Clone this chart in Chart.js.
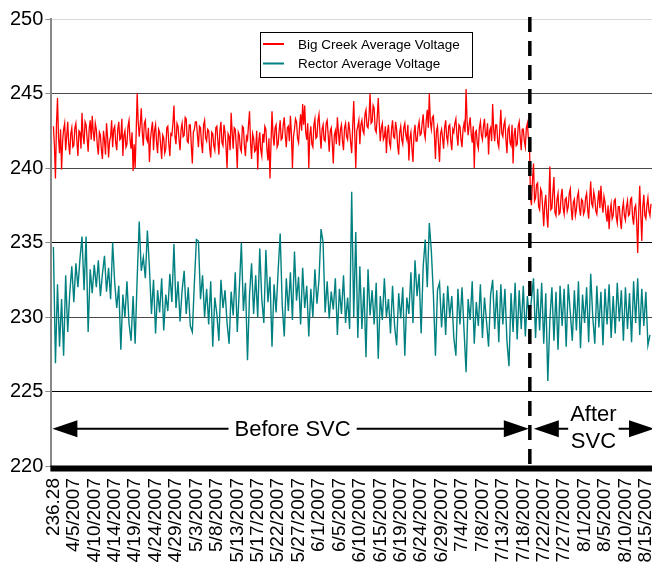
<!DOCTYPE html>
<html><head><meta charset="utf-8">
<script src="https://cdn.jsdelivr.net/npm/chart.js@4"></script>
<style>html,body{margin:0;padding:0;background:#fff;overflow:hidden}canvas{display:block}</style>
</head><body>
<canvas id="c" width="652" height="567"></canvas>
<script>
const tickLabels = ['236.28','4/5/2007','4/10/2007','4/14/2007','4/19/2007','4/24/2007','4/29/2007','5/3/2007','5/8/2007','5/13/2007','5/17/2007','5/22/2007','5/27/2007','6/1/2007','6/5/2007','6/10/2007','6/15/2007','6/19/2007','6/24/2007','6/29/2007','7/4/2007','7/8/2007','7/13/2007','7/18/2007','7/22/2007','7/27/2007','8/1/2007','8/5/2007','8/10/2007','8/15/2007'];
const labelStep = 10;            // readings of Rector between two date labels
const seriesNames = ['Big Creek Average Voltage', 'Rector Average Voltage'];
// Big Creek: two readings per Rector reading
const bigCreek = [
242.8,241.5,239.3,242.9,244.7,242.0,241.0,242.6,239.9,241.8,242.6,243.0,241.2,242.1,243.1,241.6,240.9,242.3,242.7,241.4,
241.5,242.7,243.0,241.8,240.8,242.5,242.4,241.3,243.7,242.2,241.6,243.1,242.9,242.0,241.1,242.6,243.2,241.9,243.5,242.4,
241.8,243.0,242.6,241.5,240.9,242.4,242.2,241.2,240.6,242.5,241.9,240.9,243.0,242.1,240.7,241.8,242.1,243.2,241.4,242.6,
242.8,241.7,241.2,242.6,243.1,241.9,242.0,243.3,240.8,242.2,242.5,241.4,241.6,242.8,243.2,241.9,241.3,242.4,239.8,241.6,
240.0,242.3,245.0,243.1,242.1,242.9,244.0,242.4,241.5,243.0,243.2,242.0,241.8,242.7,240.4,241.9,242.6,243.1,241.2,242.5,
242.9,241.7,241.0,242.6,242.4,241.5,240.6,242.2,242.0,241.0,241.3,242.7,242.8,241.6,240.8,242.3,242.2,243.0,244.2,242.1,
241.6,243.0,242.8,241.9,241.2,242.6,243.0,242.1,242.2,243.4,243.3,241.8,241.7,242.9,242.9,241.5,240.3,242.4,242.6,243.1,
243.1,242.2,241.4,242.8,242.7,241.6,241.0,242.9,243.2,242.0,241.8,242.6,242.5,241.3,240.7,242.4,242.3,241.5,241.2,242.7,
242.8,241.8,240.9,242.5,243.1,241.7,241.5,242.9,242.4,241.4,240.0,242.3,242.1,241.2,243.7,242.4,241.3,242.7,242.6,241.5,
240.0,242.4,242.2,241.3,241.1,242.8,242.7,241.5,240.8,242.1,241.9,242.9,243.8,241.7,240.6,242.3,242.0,241.1,241.2,242.5,
239.9,241.8,242.4,241.2,240.8,242.3,241.7,242.8,242.6,241.3,240.5,242.0,239.3,241.6,243.8,242.2,241.5,242.7,242.9,241.4,
241.6,242.5,243.2,241.9,242.0,242.9,243.4,242.2,241.4,242.7,242.8,241.8,243.5,242.3,240.0,242.1,242.6,243.3,243.1,242.0,
241.7,242.8,243.6,242.5,244.3,242.9,244.2,242.4,241.9,243.0,240.0,242.2,242.8,241.6,241.4,242.9,243.3,242.0,242.1,243.2,
243.6,242.3,241.3,242.6,242.9,241.9,241.8,243.0,243.2,242.2,241.1,242.5,242.7,241.7,240.3,242.2,242.5,241.6,243.4,242.4,
241.5,242.6,242.9,241.8,241.2,242.7,243.0,242.1,241.9,243.1,242.6,241.7,241.0,242.8,244.5,242.3,240.0,242.5,242.8,243.2,
241.6,242.9,243.2,242.5,242.3,243.6,243.9,242.8,242.7,243.5,245.0,243.0,243.1,244.2,244.0,242.6,242.4,243.4,244.7,243.0,
241.8,242.7,243.0,241.9,242.1,242.8,241.0,242.4,242.9,241.7,241.4,242.6,243.2,242.1,242.0,243.1,242.6,241.5,240.9,242.4,
242.8,241.9,241.6,242.7,243.0,242.2,241.9,242.9,240.5,242.0,242.4,241.3,240.4,242.3,242.9,241.8,241.8,242.7,243.1,242.2,
242.3,243.0,243.6,242.4,242.0,243.2,243.9,242.7,245.0,243.1,242.6,243.4,243.5,242.2,240.6,242.5,242.8,241.6,240.4,242.3,
242.6,242.0,241.3,242.7,243.2,242.1,241.7,242.8,242.9,241.8,241.2,242.6,242.4,243.0,243.3,242.2,241.5,242.9,242.8,241.9,
241.4,242.6,243.0,242.4,245.3,243.1,242.2,242.9,243.4,242.3,241.7,242.8,240.0,242.4,242.5,241.6,241.3,242.7,243.1,242.2,
241.9,242.8,243.3,242.1,242.2,243.0,240.9,242.5,242.7,241.8,244.3,242.6,241.8,242.9,242.9,241.7,241.4,242.6,243.9,242.3,
242.1,242.9,243.2,241.9,241.0,242.6,242.8,241.7,241.5,242.9,240.3,242.2,242.7,241.5,241.6,242.8,243.1,242.0,241.2,242.6,
242.6,241.8,241.4,242.7,243.0,242.0,241.9,238.0,237.5,239.2,240.3,237.8,238.0,238.9,239.0,237.4,237.2,238.6,238.4,237.3,
236.1,237.6,238.2,236.9,236.0,237.8,240.1,237.2,237.3,238.4,239.4,237.0,236.8,237.9,238.3,236.9,237.0,238.1,238.6,237.3,
236.9,237.9,238.0,237.1,237.4,238.3,238.6,237.2,236.5,237.7,237.9,236.8,237.2,238.1,238.4,237.3,236.8,237.9,237.8,236.9,
237.1,238.0,238.3,237.2,236.6,237.9,239.1,237.6,237.4,238.4,238.0,237.1,236.9,237.8,238.5,237.3,238.8,237.6,237.0,238.1,
237.7,236.9,236.4,237.5,235.9,237.1,237.6,236.6,236.8,237.8,237.9,236.7,236.3,237.4,237.4,236.5,235.9,237.2,237.7,236.8,
236.5,237.4,237.8,236.8,236.9,237.9,238.0,236.7,236.2,237.3,237.5,236.4,234.3,237.0,238.8,236.9,235.1,237.4,238.2,236.8,
236.6,237.5,238.0,237.1,236.8,237.6
];
const rector = [
234.7,226.9,232.2,228.0,231.2,227.4,232.8,229.0,231.6,233.4,
231.0,233.6,232.0,233.9,235.4,231.8,235.4,229.0,233.2,231.6,
233.5,232.0,233.8,231.4,232.9,234.1,231.7,233.3,231.2,235.0,
232.3,230.6,232.1,227.8,231.5,230.0,232.4,229.6,228.4,231.4,
228.2,232.6,236.4,233.1,234.0,232.6,235.8,233.3,230.2,232.5,
228.9,231.8,230.3,232.6,229.1,231.5,230.4,232.9,231.0,234.9,
230.6,232.4,229.7,231.8,233.1,230.2,232.0,229.4,229.0,232.3,
235.2,235.1,231.2,232.8,230.0,231.9,229.5,232.4,228.0,231.3,
230.2,228.4,232.5,230.6,231.8,229.6,228.2,231.7,230.1,233.0,
229.0,231.9,235.0,230.4,232.3,227.1,231.5,233.6,230.2,232.8,
230.0,234.6,231.2,229.6,234.5,231.0,232.7,228.0,232.2,230.3,
233.1,235.6,230.8,228.7,232.6,230.4,233.0,229.8,234.4,231.1,
232.7,229.5,233.3,230.6,232.1,228.7,231.9,230.0,233.2,230.9,
232.5,235.9,235.0,230.3,232.4,229.9,231.7,230.5,232.6,228.8,
231.9,230.2,232.8,229.6,231.3,229.2,238.4,230.0,235.7,228.6,
233.4,229.2,232.0,227.3,233.2,230.1,231.8,229.5,232.3,227.2,
231.4,229.8,232.6,230.0,231.2,228.9,232.1,229.4,228.1,231.6,
229.9,232.0,227.4,231.3,230.2,233.0,229.6,233.8,231.4,232.9,
228.9,233.4,235.2,232.0,236.3,234.4,231.5,227.4,231.8,232.3,
229.3,231.6,228.8,232.1,230.0,231.4,228.6,227.4,231.9,229.5,
232.0,229.1,226.3,231.2,229.8,232.4,228.2,231.0,229.4,232.2,
228.6,231.3,229.7,228.0,231.5,232.5,229.2,231.8,228.3,232.2,
229.5,231.9,228.4,226.7,231.6,229.0,232.3,228.5,231.8,229.2,
232.1,228.7,231.4,229.9,231.2,232.6,228.6,231.9,229.1,232.3,
228.2,231.6,225.7,229.8,232.0,228.4,231.7,227.8,232.1,229.4,
231.9,228.0,232.2,230.3,228.4,231.8,229.1,232.4,227.9,231.5,
229.6,232.0,228.3,232.9,230.0,228.2,232.1,229.3,231.7,228.1,
231.9,229.5,232.2,228.6,231.4,228.9,232.3,229.7,231.8,228.4,
232.0,229.2,231.6,228.3,232.4,229.6,232.6,228.8,231.9,229.4,
231.7,228.1,228.8
];
const seriesColors = ['#ff0000', '#008080'];
const readingsPerStep = [2, 1];   // Big Creek has twice as many readings
const svcBoundary = 233.2;        // reading index where the SVC went in
const arrowLevel = 222.5;         // voltage level of the before/after arrows
const yMin = 220, yMax = 250, yStep = 5;

const FONT = "'Liberation Sans', Arial, Helvetica, sans-serif";
Chart.defaults.font.family = FONT;
Chart.defaults.color = '#000';

function toPoints(arr, per) { return arr.map((v, i) => ({x: i / per, y: v})); }

function arrowHead(ctx, tipX, y, dir, len, half) {
  ctx.beginPath();
  ctx.moveTo(tipX, y);
  ctx.lineTo(tipX - dir * len, y - half);
  ctx.lineTo(tipX - dir * len, y + half);
  ctx.closePath();
  ctx.fill();
}

const svcPlugin = {
  id: 'svcNotes',
  afterDatasetsDraw(chart) {
    const {ctx, chartArea, scales} = chart;
    const xs = scales.x.getPixelForValue(svcBoundary);
    const ya = scales.y.getPixelForValue(arrowLevel);
    ctx.save();
    // thick category axis line
    ctx.fillStyle = '#000';
    ctx.fillRect(chartArea.left - 1, chartArea.bottom - 0.5, chartArea.right - chartArea.left + 2, 6);
    // dashed divider
    ctx.strokeStyle = '#000';
    ctx.lineWidth = 3.5;
    ctx.setLineDash([15, 9]);
    ctx.beginPath();
    ctx.moveTo(xs, chartArea.top - 2);
    ctx.lineTo(xs, chartArea.bottom);
    ctx.stroke();
    ctx.setLineDash([]);

    const HL = 25, HH = 8.5;
    ctx.fillStyle = '#000';
    ctx.lineWidth = 2;
    const b1 = chartArea.left + 1, b2 = xs - 1;
    ctx.beginPath(); ctx.moveTo(b1 + HL - 1, ya); ctx.lineTo(b2 - HL + 1, ya); ctx.stroke();
    arrowHead(ctx, b1, ya, -1, HL, HH);
    arrowHead(ctx, b2, ya, 1, HL, HH);
    const a1 = xs + 4, a2 = chartArea.right + 2;
    ctx.beginPath(); ctx.moveTo(a1 + HL - 1, ya); ctx.lineTo(a2 - HL + 1, ya); ctx.stroke();
    arrowHead(ctx, a1, ya, -1, HL, HH);
    arrowHead(ctx, a2, ya, 1, HL, HH);

    ctx.font = '22px ' + FONT;
    ctx.textAlign = 'center';
    ctx.textBaseline = 'middle';
    const bt = 'Before SVC';
    const bx = (b1 + b2) / 2 + 2;
    const bw = ctx.measureText(bt).width;
    ctx.fillStyle = '#fff';
    ctx.fillRect(bx - bw / 2 - 6, ya - 13, bw + 12, 26);
    ctx.fillStyle = '#000';
    ctx.fillText(bt, bx, ya + 1);

    const ax = (a1 + a2) / 2 - 0.5;
    const aw = Math.max(ctx.measureText('After').width, ctx.measureText('SVC').width);
    ctx.fillStyle = '#fff';
    ctx.fillRect(ax - aw / 2 - 2, ya - 28, aw + 4, 56);
    ctx.fillStyle = '#000';
    ctx.fillText('After', ax, ya - 14);
    ctx.fillText('SVC', ax, ya + 13);

    // legend
    const lx = 260, ly = 32, lw = 212, lh = 45;
    ctx.fillStyle = '#fff';
    ctx.fillRect(lx, ly, lw, lh);
    ctx.strokeStyle = '#000';
    ctx.lineWidth = 1;
    ctx.strokeRect(lx + 0.5, ly + 0.5, lw, lh);
    ctx.font = '13.5px ' + FONT;
    ctx.textAlign = 'left';
    chart.data.datasets.forEach((ds, k) => {
      const yy = ly + 12 + k * 19.5;
      ctx.strokeStyle = ds.borderColor;
      ctx.lineWidth = 2;
      ctx.beginPath(); ctx.moveTo(lx + 3, yy); ctx.lineTo(lx + 24, yy); ctx.stroke();
      ctx.fillStyle = '#000';
      ctx.fillText(ds.label, lx + 38, yy + 1);
    });
    ctx.restore();
  }
};

new Chart(document.getElementById('c'), {
  type: 'line',
  data: {
    datasets: [
      {label: seriesNames[0], data: toPoints(bigCreek, readingsPerStep[0]), borderColor: seriesColors[0], borderWidth: 1.3, pointRadius: 0, tension: 0},
      {label: seriesNames[1], data: toPoints(rector, readingsPerStep[1]), borderColor: seriesColors[1], borderWidth: 1.4, pointRadius: 0, tension: 0}
    ]
  },
  options: {
    responsive: false,
    animation: false,
    devicePixelRatio: 1,
    layout: {padding: {left: 8, top: 19, right: 0, bottom: 4}},
    plugins: {legend: {display: false}, tooltip: {enabled: false}},
    scales: {
      x: {
        type: 'linear',
        min: -1,
        max: rector.length,
        grid: {display: false, drawTicks: false},
        border: {display: false},
        afterBuildTicks: (axis) => { axis.ticks = tickLabels.map((_, k) => ({value: k * labelStep})); },
        afterFit: (axis) => { axis.paddingRight = 0; axis.paddingLeft = 0; axis.height = 97; },
        ticks: {
          autoSkip: false, minRotation: 90, maxRotation: 90, padding: 12,
          font: {size: 19}, color: '#000',
          callback: (v) => tickLabels[Math.round(v / labelStep)] ?? ''
        }
      },
      y: {
        min: yMin, max: yMax,
        grid: {
          color: (c) => c.tick.value === yMax ? '#d9d9d9' : (c.tick.value === 235 || c.tick.value === 225 ? '#000' : '#4a4a4a'),
          tickColor: '#888', tickLength: 6, lineWidth: 1
        },
        border: {color: '#888', width: 2},
        ticks: {stepSize: yStep, padding: 2, font: {size: 20}, color: '#000'}
      }
    }
  },
  plugins: [svcPlugin]
});
</script>
</body></html>
